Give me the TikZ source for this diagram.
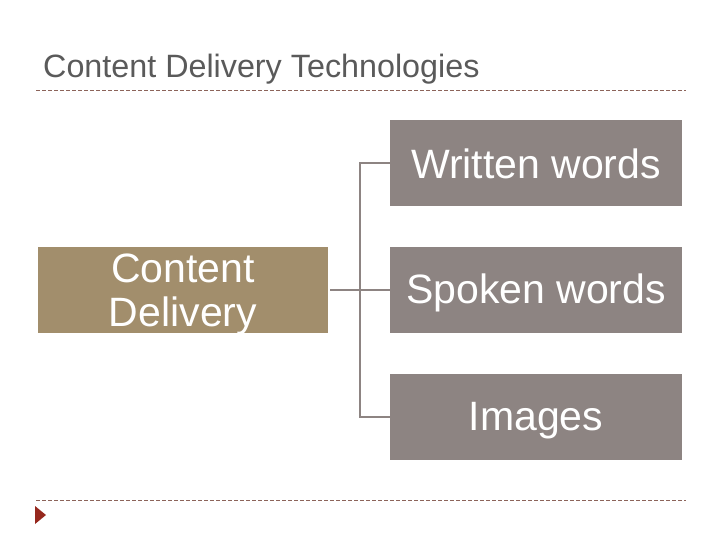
\documentclass[tikz,border=0pt]{standalone}
\usepackage{fontspec}
\setmainfont{Liberation Sans}
\definecolor{tan}{RGB}{162,142,108}
\definecolor{mauve}{RGB}{141,132,130}
\definecolor{titlegray}{RGB}{90,90,90}
\definecolor{dashcol}{RGB}{140,100,90}
\definecolor{tri}{RGB}{150,40,30}
\begin{document}
\begin{tikzpicture}[x=1pt,y=-1pt,
  box/.style={draw=none,minimum width=292pt,minimum height=86pt,inner sep=0pt},
  lbl/.style={inner sep=0pt,text=white,font=\fontsize{41}{44}\selectfont,align=center},
  conn/.style={draw=mauve,line width=2.6pt},
  sep/.style={draw=dashcol,line width=0.8pt,dash pattern=on 4pt off 2pt}]
\useasboundingbox (0,0) rectangle (720,540);
\node[anchor=base west,text=titlegray,font=\fontsize{32.3}{36}\selectfont,inner sep=0pt] (title) at (43,78) {Content Delivery Technologies};
\coordinate (d1a) at (36,90); \coordinate (d1b) at (686,90);
\coordinate (d2a) at (36,500); \coordinate (d2b) at (686,500);
\draw[sep] (d1a) -- (d1b);
\draw[sep] (d2a) -- (d2b);
\node[box,fill=tan,minimum width=290pt] (cd) at (183,290) {};
\node[box,fill=mauve] (ww) at (536,163) {};
\node[box,fill=mauve] (sw) at (536,290) {};
\node[box,fill=mauve] (im) at (536,417) {};
\node[lbl] (cdt) at ([yshift=-4pt]cd.center) {Content\\Delivery};
\node[lbl] (wwt) at ([yshift=-1pt]ww.center) {Written words};
\node[lbl] (swt) at ([yshift=-3pt]sw.center) {Spoken words};
\node[lbl] (imt) at ([yshift=-4pt]im.center) {Images};
\coordinate (j) at (360,290);
\draw[conn] (cd.east) ++(2,0) -- (sw.west);
\draw[conn] (ww.west) -| (j |- im.west) -- (im.west);
\fill[tri] (35,506) coordinate (t1) -- (35,524) -- (46,515) -- cycle;
\end{tikzpicture}
\end{document}
